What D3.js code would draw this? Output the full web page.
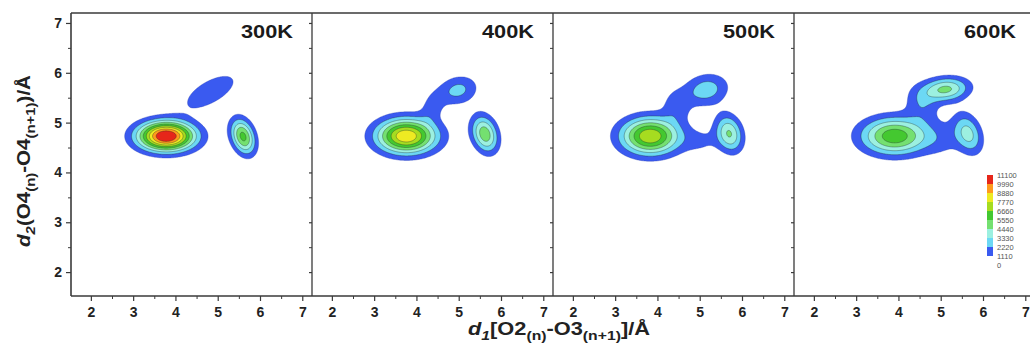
<!DOCTYPE html>
<html>
<head>
<meta charset="utf-8">
<script src="https://cdn.jsdelivr.net/npm/d3@7"></script>
<style>
  html, body { margin: 0; padding: 0; background: #fff; }
  svg { display: block; font-family: "Liberation Sans", Arial, sans-serif; }
</style>
</head>
<body>
<svg id="chart" width="1030" height="346"></svg>
<script>
// Temperatures shown, one panel each
const temperatures = ["300K", "400K", "500K", "600K"];

// Contour levels (probability counts) and band fills
const levels = [1110, 2220, 3330, 4440, 5550, 6660, 7770, 8880, 9990, 11100];
const levelColors = ["#3a5af0", "#6cd8f4", "#9cf0e0", "#74e070", "#44c830",
                     "#a6dc20", "#eeea22", "#ff9a1c", "#e6261a"];
const colorbarLabels = ["0", "1110", "2220", "3330", "4440", "5550", "6660", "7770", "8880", "9990", "11100"];

// Axis ticks
const xTicks = [2, 3, 4, 5, 6, 7];
const yTicks = [2, 3, 4, 5, 6, 7];
const xMinorTicks = [2.5, 3.5, 4.5, 5.5, 6.5];
const yMinorTicks = [2.5, 3.5, 4.5, 5.5, 6.5];

// Distribution peaks per temperature: centre (x, y), height h,
// widths sx, sy and orientation rot (degrees)
const peaks300 = [
  { x: 3.78, y: 4.73, h: 10500, sx: 0.44, sy: 0.195, rot: 0 },
  { x: 3.82, y: 4.70, h: 1000,  sx: 0.60, sy: 0.26,  rot: 0 },
  { x: 4.83, y: 5.62, h: 2150,  sx: 0.50, sy: 0.19,  rot: 24 },
  { x: 5.60, y: 4.72, h: 5900,  sx: 0.26, sy: 0.18,  rot: -62 }
];
const peaks400 = [
  { x: 3.75, y: 4.73, h: 7900,  sx: 0.47, sy: 0.235, rot: 0 },
  { x: 3.90, y: 4.72, h: 900,   sx: 0.62, sy: 0.28,  rot: 0 },
  { x: 4.98, y: 5.65, h: 2600,  sx: 0.33, sy: 0.20,  rot: 10 },
  { x: 4.38, y: 5.33, h: 1500,  sx: 0.17, sy: 0.22,  rot: -30 },
  { x: 5.62, y: 4.77, h: 5200,  sx: 0.27, sy: 0.20,  rot: -62 }
];
const peaks500 = [
  { x: 3.82, y: 4.73, h: 6800,  sx: 0.46, sy: 0.25,  rot: 0 },
  { x: 3.95, y: 4.72, h: 900,   sx: 0.65, sy: 0.30,  rot: 0 },
  { x: 5.15, y: 5.66, h: 2900,  sx: 0.37, sy: 0.22,  rot: 8 },
  { x: 4.45, y: 5.35, h: 1700,  sx: 0.22, sy: 0.22,  rot: -30 },
  { x: 5.70, y: 4.78, h: 4500,  sx: 0.27, sy: 0.21,  rot: -62 },
  { x: 5.05, y: 4.62, h: 1000,  sx: 0.30, sy: 0.18,  rot: 0 }
];
const peaks600 = [
  { x: 3.90, y: 4.73, h: 5700,  sx: 0.53, sy: 0.25,  rot: 0 },
  { x: 4.00, y: 4.72, h: 700,   sx: 0.70, sy: 0.32,  rot: 0 },
  { x: 5.12, y: 5.67, h: 4700,  sx: 0.38, sy: 0.165, rot: 4 },
  { x: 4.55, y: 5.38, h: 1800,  sx: 0.28, sy: 0.24,  rot: -30 },
  { x: 5.65, y: 4.78, h: 3600,  sx: 0.30, sy: 0.21,  rot: -60 },
  { x: 5.05, y: 4.66, h: 1050,  sx: 0.35, sy: 0.25,  rot: 0 }
];
const panelPeaks = [peaks300, peaks400, peaks500, peaks600];

// Layout
const svg = d3.select("#chart");
const panelLeft = [71, 312, 553, 794];
const panelWidth = 241;
const plotTop = 13, plotBottom = 296;
const xDomain = [1.53, 7.23];
const yDomain = [1.52, 7.2];
const axisColor = "#3a3a3a";

function densityAt(peaks, x, y) {
  let s = 0;
  for (const p of peaks) {
    const a = p.rot * Math.PI / 180;
    const dx = x - p.x, dy = y - p.y;
    const u = dx * Math.cos(a) + dy * Math.sin(a);
    const v = -dx * Math.sin(a) + dy * Math.cos(a);
    s += p.h * Math.exp(-0.5 * (u * u / (p.sx * p.sx) + v * v / (p.sy * p.sy)));
  }
  return s;
}

const step = 0.02;
const nx = Math.ceil((xDomain[1] - xDomain[0]) / step) + 1;
const ny = Math.ceil((yDomain[1] - yDomain[0]) / step) + 1;

const defs = svg.append("defs");

temperatures.forEach((label, k) => {
  const x0 = panelLeft[k];
  const xs = d3.scaleLinear().domain(xDomain).range([x0, x0 + panelWidth]);
  const ys = d3.scaleLinear().domain(yDomain).range([plotBottom, plotTop]);
  const g = svg.append("g");

  defs.append("clipPath").attr("id", "clip" + k)
    .append("rect").attr("x", x0).attr("y", plotTop)
    .attr("width", panelWidth).attr("height", plotBottom - plotTop);

  // density grid
  const values = new Float64Array(nx * ny);
  for (let j = 0; j < ny; j++) {
    const y = yDomain[0] + j * step;
    for (let i = 0; i < nx; i++) {
      values[i + j * nx] = densityAt(panelPeaks[k], xDomain[0] + i * step, y);
    }
  }
  const contours = d3.contours().size([nx, ny]).thresholds(levels.slice(0, 9))(values);
  const proj = d3.geoTransform({
    point(gx, gy) {
      this.stream.point(xs(xDomain[0] + (gx - 0.5) * step), ys(yDomain[0] + (gy - 0.5) * step));
    }
  });
  const path = d3.geoPath(proj);

  g.append("g").attr("clip-path", `url(#clip${k})`)
    .selectAll("path").data(contours).join("path")
    .attr("d", path)
    .attr("fill", (d, i) => levelColors[i])
    .attr("stroke", (d, i) => i === 0 ? "#2a3fb0" : "#1d2a2a")
    .attr("stroke-opacity", 0.6)
    .attr("stroke-width", 0.6);

  // x axis
  const xAxis = g.append("g").attr("transform", `translate(0,${plotBottom})`)
    .call(d3.axisBottom(xs).tickValues(xTicks).tickSize(5).tickPadding(6).tickFormat(d3.format("d")));
  xAxis.select(".domain").remove();
  xAxis.selectAll("line").attr("stroke", axisColor).attr("stroke-width", 1.2);
  xAxis.selectAll("text").attr("font-size", 14).attr("font-weight", "bold").attr("fill", "#222");
  const xMinor = g.append("g").attr("transform", `translate(0,${plotBottom})`)
    .call(d3.axisBottom(xs).tickValues(xMinorTicks).tickSize(3).tickFormat(""));
  xMinor.select(".domain").remove();
  xMinor.selectAll("line").attr("stroke", axisColor).attr("stroke-width", 1);

  // y ticks on the left edge of each panel
  const yAxis = g.append("g").attr("transform", `translate(${x0},0)`)
    .call(d3.axisLeft(ys).tickValues(yTicks).tickSize(k === 0 ? 5 : 3).tickPadding(4).tickFormat(d3.format("d")));
  yAxis.select(".domain").remove();
  yAxis.selectAll("line").attr("stroke", axisColor).attr("stroke-width", 1.2);
  if (k === 0) {
    yAxis.selectAll("text").attr("font-size", 14).attr("font-weight", "bold").attr("fill", "#222");
  } else {
    yAxis.selectAll("text").remove();
  }
  const yMinor = g.append("g").attr("transform", `translate(${x0},0)`)
    .call(d3.axisLeft(ys).tickValues(yMinorTicks).tickSize(3).tickFormat(""));
  yMinor.select(".domain").remove();
  yMinor.selectAll("line").attr("stroke", axisColor).attr("stroke-width", 1);

  // panel border (left edge)
  g.append("line")
    .attr("x1", x0).attr("x2", x0).attr("y1", plotTop).attr("y2", plotBottom)
    .attr("stroke", axisColor).attr("stroke-width", k === 0 ? 1.6 : 1.3);

  // temperature label
  g.append("text")
    .attr("x", x0 + 222).attr("y", 38)
    .attr("text-anchor", "end")
    .attr("font-size", 18).attr("font-weight", "bold").attr("fill", "#1a1a1a")
    .attr("textLength", 52).attr("lengthAdjust", "spacingAndGlyphs")
    .text(label);
});

// frame: top and bottom lines across all panels
svg.append("line").attr("x1", 71).attr("x2", 1030).attr("y1", plotTop).attr("y2", plotTop)
  .attr("stroke", axisColor).attr("stroke-width", 1.6);
svg.append("line").attr("x1", 71).attr("x2", 1030).attr("y1", plotBottom).attr("y2", plotBottom)
  .attr("stroke", axisColor).attr("stroke-width", 1.6);

// colour bar
const cbScale = d3.scaleLinear().domain([0, 11100]).range([265, 175]);
const cb = svg.append("g");
cb.selectAll("rect").data(levelColors).join("rect")
  .attr("x", 987).attr("width", 6)
  .attr("y", (d, i) => cbScale(levels[i + 1]))
  .attr("height", (d, i) => cbScale(levels[i]) - cbScale(levels[i + 1]))
  .attr("fill", d => d);
cb.selectAll("text").data(colorbarLabels).join("text")
  .attr("x", 997)
  .attr("y", (d, i) => cbScale(i * 1110) + 2.5)
  .attr("font-size", 7.5).attr("fill", "#555")
  .text(d => d);

// axis titles
const xt = svg.append("text").attr("x", 559).attr("y", 335)
  .attr("text-anchor", "middle").attr("font-size", 18).attr("font-weight", "bold").attr("fill", "#222")
  .attr("textLength", 182).attr("lengthAdjust", "spacingAndGlyphs");
xt.append("tspan").attr("font-style", "italic").text("d");
xt.append("tspan").attr("font-style", "italic").attr("font-size", 13).attr("dy", 5).text("1");
xt.append("tspan").attr("dy", -5).text("[O2");
xt.append("tspan").attr("font-size", 13).attr("dy", 5).text("(n)");
xt.append("tspan").attr("dy", -5).text("-O3");
xt.append("tspan").attr("font-size", 13).attr("dy", 5).text("(n+1)");
xt.append("tspan").attr("dy", -5).text("]/Å");

const yt = svg.append("text").attr("transform", "translate(30,161) rotate(-90)")
  .attr("text-anchor", "middle").attr("font-size", 18).attr("font-weight", "bold").attr("fill", "#222")
  .attr("textLength", 172).attr("lengthAdjust", "spacingAndGlyphs");
yt.append("tspan").attr("font-style", "italic").text("d");
yt.append("tspan").attr("font-style", "italic").attr("font-size", 13).attr("dy", 5).text("2");
yt.append("tspan").attr("dy", -5).text("(O4");
yt.append("tspan").attr("font-size", 13).attr("dy", 5).text("(n)");
yt.append("tspan").attr("dy", -5).text("-O4");
yt.append("tspan").attr("font-size", 13).attr("dy", 5).text("(n+1)");
yt.append("tspan").attr("dy", -5).text(")/Å");
</script>
</body>
</html>
